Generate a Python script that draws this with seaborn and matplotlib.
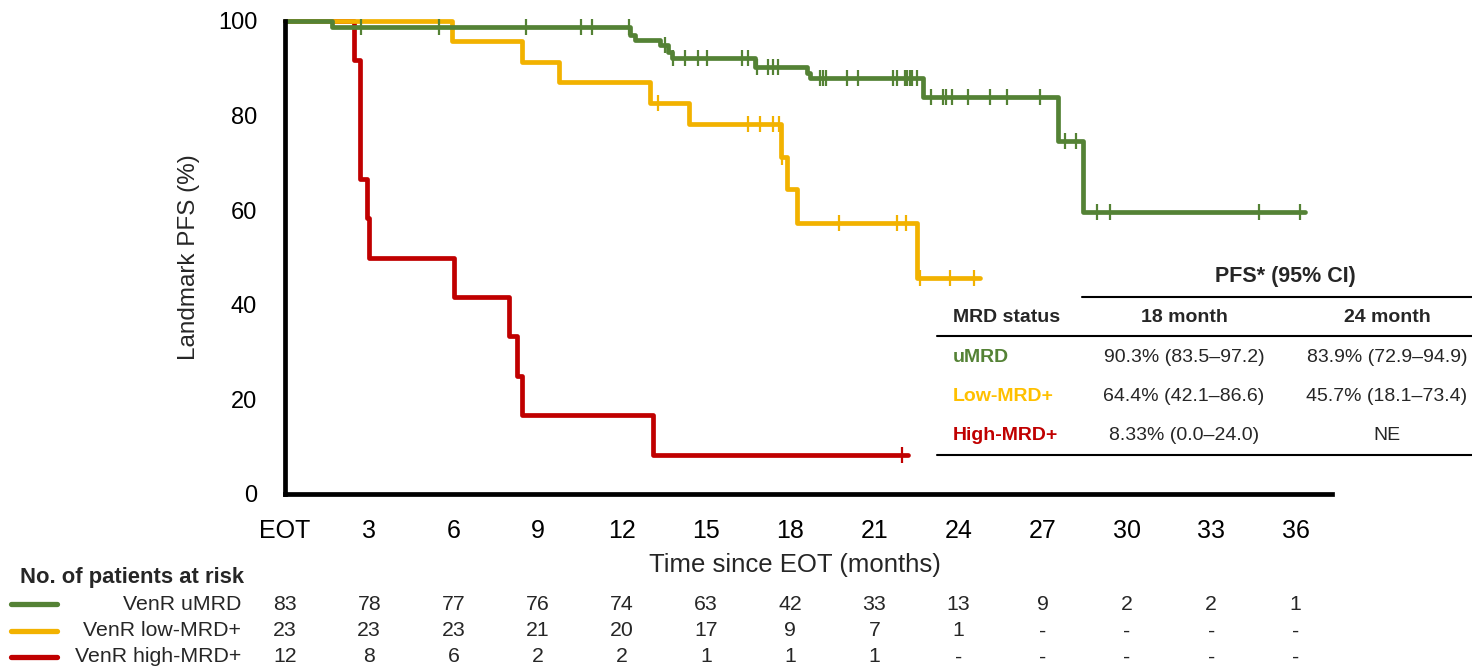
import numpy as np
import pandas as pd
import matplotlib
matplotlib.use("Agg")
import matplotlib.pyplot as plt
import seaborn as sns
from matplotlib.lines import Line2D

sns.set_theme(style="white")
plt.rcParams["font.family"] = ["Liberation Sans", "DejaVu Sans"]

# ---------------- data ----------------
groups = ["VenR uMRD", "VenR low-MRD+", "VenR high-MRD+"]
colors = ["#548235", "#F2B200", "#C00000"]

umrd_times = [0, 1.67, 12.30, 12.47, 13.36, 13.65, 13.79, 16.75, 18.60, 18.71, 22.74, 27.55, 28.44, 36.35]
umrd_surv = [100, 98.8, 97.0, 95.9, 94.9, 93.5, 92.1, 90.3, 89.1, 88.0, 83.9, 74.6, 59.7, 59.7]
umrd_cens = [2.71, 5.49, 8.59, 10.55, 10.94, 12.26, 13.54, 13.83, 14.26, 14.72, 15.04, 16.29, 16.50,
             16.82, 17.21, 17.39, 17.57, 19.07, 19.18, 19.28, 20.03, 20.42, 21.67, 21.81, 22.10,
             22.17, 22.27, 22.35, 22.52, 23.02, 23.45, 23.56, 23.77, 24.34, 25.12, 25.73, 26.91,
             27.80, 28.19, 28.94, 29.40, 34.71, 36.17]

low_times = [0, 5.95, 8.45, 9.76, 13.01, 14.40, 17.68, 17.89, 18.25, 22.52, 24.77]
low_surv = [100, 95.7, 91.3, 87.0, 82.6, 78.3, 71.2, 64.4, 57.2, 45.7, 45.7]
low_cens = [13.29, 16.50, 16.93, 17.39, 17.61, 17.72, 19.74, 21.81, 22.13, 22.63, 23.70, 24.55]

high_times = [0, 2.46, 2.67, 2.92, 2.99, 6.02, 7.98, 8.27, 8.45, 13.11, 22.2]
high_surv = [100, 91.7, 66.7, 58.3, 50.0, 41.7, 33.3, 25.0, 16.7, 8.33, 8.33]
high_cens = [21.99]

x_ticks = [0, 3, 6, 9, 12, 15, 18, 21, 24, 27, 30, 33, 36]
x_ticklabels = ["EOT", "3", "6", "9", "12", "15", "18", "21", "24", "27", "30", "33", "36"]
y_ticks = [0, 20, 40, 60, 80, 100]

risk_umrd = ["83", "78", "77", "76", "74", "63", "42", "33", "13", "9", "2", "2", "1"]
risk_low = ["23", "23", "23", "21", "20", "17", "9", "7", "1", "-", "-", "-", "-"]
risk_high = ["12", "8", "6", "2", "2", "1", "1", "1", "-", "-", "-", "-", "-"]

table_status = ["uMRD", "Low-MRD+", "High-MRD+"]
table_18 = ["90.3% (83.5\u201397.2)", "64.4% (42.1\u201386.6)", "8.33% (0.0\u201324.0)"]
table_24 = ["83.9% (72.9\u201394.9)", "45.7% (18.1\u201373.4)", "NE"]

# ---------------- frames ----------------
curves = pd.concat([
    pd.DataFrame({"time": umrd_times, "surv": umrd_surv, "group": groups[0]}),
    pd.DataFrame({"time": low_times, "surv": low_surv, "group": groups[1]}),
    pd.DataFrame({"time": high_times, "surv": high_surv, "group": groups[2]}),
], ignore_index=True)


def cens_frame(times, levels, cens, name):
    times = np.asarray(times)
    idx = np.searchsorted(times, cens, side="right") - 1
    return pd.DataFrame({"time": cens, "surv": np.asarray(levels)[idx], "group": name})


cens_df = pd.concat([
    cens_frame(umrd_times, umrd_surv, umrd_cens, groups[0]),
    cens_frame(low_times, low_surv, low_cens, groups[1]),
    cens_frame(high_times, high_surv, high_cens, groups[2]),
], ignore_index=True)

palette = dict(zip(groups, colors))
draw_order = [groups[2], groups[1], groups[0]]

# ---------------- figure ----------------
W, H = 1472, 669
fig = plt.figure(figsize=(W / 100, H / 100), dpi=100)
fig.patch.set_facecolor("white")


def fx(px):
    return px / W


def fy(py):
    return 1 - py / H


ax = fig.add_axes([fx(285), fy(494), fx(1332) - fx(285), fy(21) - fy(494)])
ax.set_facecolor("white")

sns.lineplot(data=curves, x="time", y="surv", hue="group", hue_order=draw_order,
             palette=palette, drawstyle="steps-post", estimator=None, sort=False,
             linewidth=3.4, legend=False, ax=ax, clip_on=False)
for g in draw_order:
    sub = cens_df[cens_df["group"] == g]
    ax.plot(sub["time"], sub["surv"], linestyle="none", marker="|", markersize=11,
            markeredgewidth=1.6, color=palette[g], clip_on=False)

ax.set_xlim(0, 37.3)
ax.set_ylim(0, 100)
ax.set_xticks(x_ticks)
ax.set_xticklabels(x_ticklabels)
ax.set_yticks(y_ticks)
for s in ["top", "right"]:
    ax.spines[s].set_visible(False)
for s in ["left", "bottom"]:
    ax.spines[s].set_linewidth(3.4)
    ax.spines[s].set_color("black")
ax.tick_params(axis="x", direction="out", length=13, width=3.2, pad=5, labelsize=18, colors="black")
ax.tick_params(axis="y", direction="out", length=12, width=3.2, pad=8, labelsize=17, colors="black")
ax.set_xlabel("Time since EOT (months)", fontsize=18.5)
ax.xaxis.set_label_coords((795 - 285) / (1332 - 285), -0.125)
ax.set_ylabel("Landmark PFS (%)", fontsize=17.5, labelpad=13)
ax.grid(False)

# ---------------- PFS table ----------------
fig.add_artist(Line2D([fx(1082), fx(1472)], [fy(297), fy(297)], color="black", lw=1.5))
fig.add_artist(Line2D([fx(937), fx(1472)], [fy(336), fy(336)], color="black", lw=1.5))
fig.add_artist(Line2D([fx(937), fx(1472)], [fy(455), fy(455)], color="black", lw=1.5))
fig.text(fx(1285), fy(277), "PFS* (95% CI)", ha="center", va="center", fontsize=15.5, fontweight="bold")
fig.text(fx(953), fy(318), "MRD status", ha="left", va="center", fontsize=14, fontweight="bold")
fig.text(fx(1184), fy(318), "18 month", ha="center", va="center", fontsize=14, fontweight="bold")
fig.text(fx(1387), fy(318), "24 month", ha="center", va="center", fontsize=14, fontweight="bold")
row_y = [357, 396, 435]
for i in range(3):
    fig.text(fx(953), fy(row_y[i]), table_status[i], ha="left", va="center", fontsize=14,
             fontweight="bold", color=["#548235", "#FFC000", "#C00000"][i])
    fig.text(fx(1184), fy(row_y[i]), table_18[i], ha="center", va="center", fontsize=14)
    fig.text(fx(1387), fy(row_y[i]), table_24[i], ha="center", va="center", fontsize=14)

# ---------------- risk table ----------------
fig.text(fx(20), fy(578), "No. of patients at risk", ha="left", va="center", fontsize=15.8,
         fontweight="bold")
risk_rows = [risk_umrd, risk_low, risk_high]
risk_y = [604, 631, 657]
for i, (g, row) in enumerate(zip(groups, risk_rows)):
    yy = fy(risk_y[i])
    fig.add_artist(Line2D([fx(11), fx(57)], [yy, yy], color=colors[i], lw=3.8))
    fig.text(fx(241), yy, g, ha="right", va="center", fontsize=15.3)
    for t, v in zip(x_ticks, row):
        xpix = ax.transData.transform((t, 0))[0]
        fig.text(xpix / W, yy, v, ha="center", va="center", fontsize=15.3)

fig.savefig("out.png", dpi=100, facecolor="white")
